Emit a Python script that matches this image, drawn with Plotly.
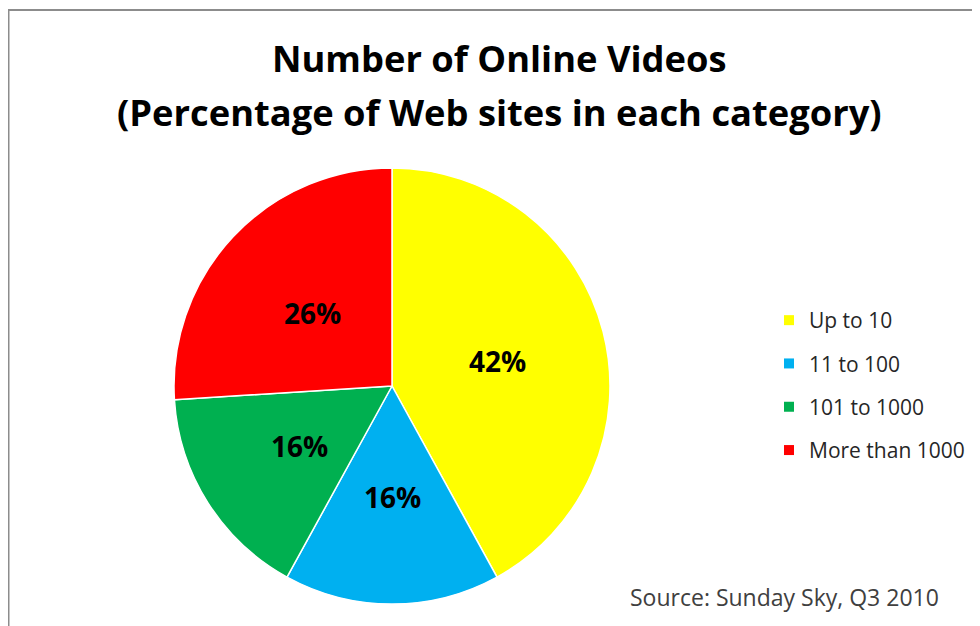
import math

import plotly.graph_objects as go

categories = ["Up to 10", "11 to 100", "101 to 1000", "More than 1000"]
shares = [42, 16, 16, 26]
colors = ["#FFFF00", "#00B0F0", "#00B050", "#FF0000"]

title_lines = ["Number of Online Videos", "(Percentage of Web sites in each category)"]
source_note = "Source: Sunday Sky, Q3 2010"

W, H = 980, 626
FONT = "Open Sans"
OFF = 8  # the page body adds an 8px margin around the plot div

# pie centre and radius on the page
CX, CY, R = 392, 386, 218


def px(x):
    return (x - OFF) / W


def py(y):
    return 1 - (y - OFF) / H


fig = go.Figure()

fig.add_trace(go.Pie(
    labels=categories,
    values=shares,
    sort=False,
    direction="clockwise",
    rotation=0,
    marker=dict(colors=colors, line=dict(color="white", width=1.5)),
    textinfo="none",
    domain=dict(x=[px(CX - R), px(CX + R)], y=[py(CY + R), py(CY - R)]),
    showlegend=False,
    hoverinfo="label+percent",
))

# legend entries as separate groups so the gap between items can be set
for name, c in zip(categories, colors):
    fig.add_trace(go.Scatter(
        x=[None], y=[None], mode="markers", name=name,
        legendgroup=name,
        marker=dict(symbol="square", size=10, color=c),
    ))

annotations = []

# percentage labels half way out along each slice's bisector (Excel style)
total = sum(shares)
start = 0.0
for s in shares:
    mid = (start + s / 2) / total * 2 * math.pi
    start += s
    annotations.append(dict(
        text="<b>%d%%</b>" % round(s / total * 100),
        xref="paper", yref="paper",
        x=px(CX + 0.5 * R * math.sin(mid)), xanchor="center",
        y=py(CY + 2 - 0.5 * R * math.cos(mid)), yanchor="middle",
        showarrow=False,
        font=dict(family=FONT, size=28, color="black"),
    ))

title_ys = [58, 112]
for line, ty in zip(title_lines, title_ys):
    annotations.append(dict(
        text="<b>%s</b>" % line,
        xref="paper", yref="paper",
        x=px(499), xanchor="center",
        y=py(ty), yanchor="middle",
        showarrow=False,
        font=dict(family=FONT, size=36.3, color="black"),
    ))

annotations.append(dict(
    text=source_note,
    xref="paper", yref="paper",
    x=px(941), xanchor="right",
    y=py(597), yanchor="middle",
    showarrow=False,
    font=dict(family=FONT, size=23, color="#404040"),
))

fig.update_layout(
    width=W,
    height=H,
    margin=dict(l=0, r=0, t=0, b=0),
    paper_bgcolor="white",
    plot_bgcolor="white",
    font=dict(family=FONT, color="#262626"),
    xaxis=dict(visible=False),
    yaxis=dict(visible=False),
    legend=dict(
        x=px(769), xanchor="left",
        y=py(300), yanchor="top",
        font=dict(family=FONT, size=21, color="#262626"),
        tracegroupgap=13,
        itemwidth=30,
        bgcolor="rgba(0,0,0,0)",
    ),
    annotations=annotations,
    shapes=[dict(
        type="rect", xref="paper", yref="paper",
        x0=px(8.5), x1=1.05, y0=-0.05, y1=py(10),
        line=dict(color="#8C8C8C", width=2),
        fillcolor="rgba(0,0,0,0)",
    )],
)

fig.write_html("out.html")
